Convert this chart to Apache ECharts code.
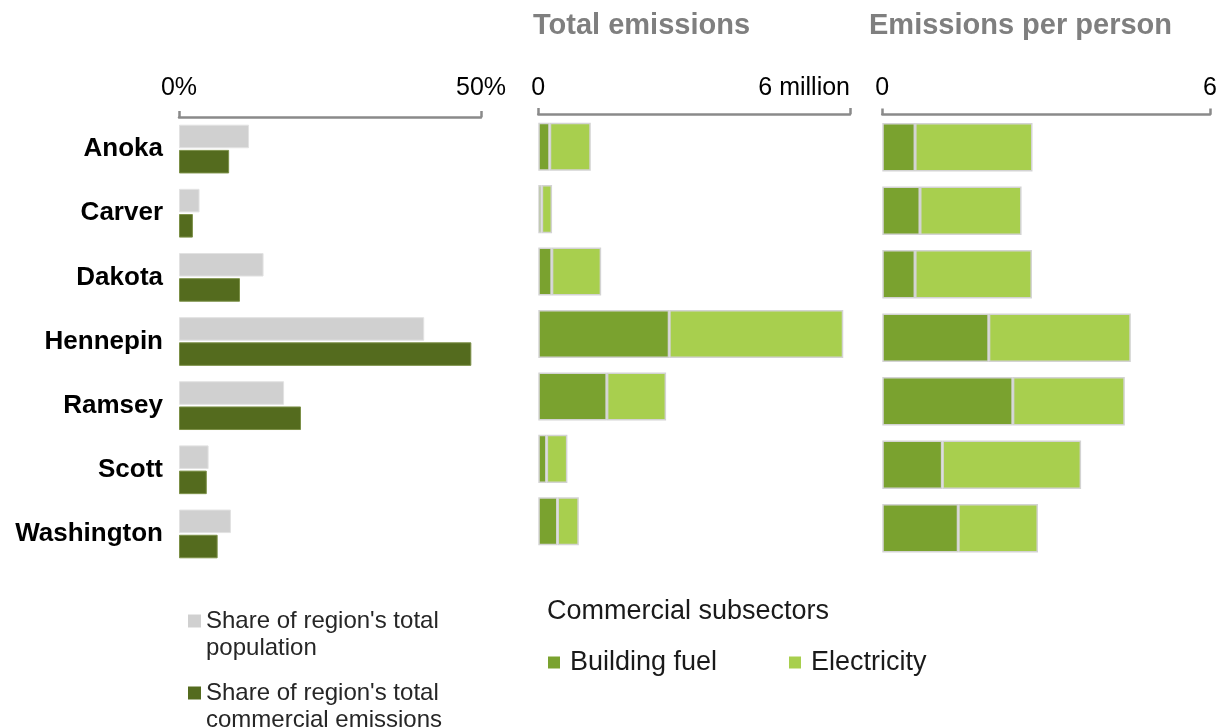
<!DOCTYPE html>
<html><head><meta charset="utf-8">
<script src="https://cdn.jsdelivr.net/npm/echarts@6/dist/echarts.min.js"></script>
<style>html,body{margin:0;padding:0;background:#fff}#c{width:1223px;height:728px}</style>
</head><body><div id="c"></div>
<script>
// ---- data ----
const categories = ['Anoka', 'Carver', 'Dakota', 'Hennepin', 'Ramsey', 'Scott', 'Washington'];
const popShare  = [11.6, 3.4, 14.0, 40.6, 17.4, 4.9, 8.6];     // % of region's population
const emisShare = [8.3, 2.3, 10.1, 48.4, 20.2, 4.6, 6.4];      // % of region's commercial emissions
const totalFuel = [0.22, 0.065, 0.26, 2.52, 1.32, 0.16, 0.37]; // million
const totalElec = [0.79, 0.20, 0.95, 3.35, 1.14, 0.40, 0.41];  // million
const perFuel   = [0.60, 0.69, 0.60, 1.95, 2.39, 1.10, 1.39];
const perElec   = [2.15, 1.86, 2.14, 2.60, 2.05, 2.54, 1.46];
const shareTicks = ['0%', '50%'];
const totalTicks = ['0', '6 million'];
const perTicks   = ['0', '6'];
const popName  = "Share of region's total population";
const emisName = "Share of region's total commercial emissions";

const FONT = "'Liberation Sans', Arial, Helvetica, sans-serif";
const axisGray = '#8a8a8a';

function topAxis(gridIndex, max, ticks, offset, margin, alignMax) {
  return {
    type: 'value', gridIndex, position: 'top', min: 0, max, interval: max, offset,
    splitLine: { show: false },
    axisLine: { show: true, lineStyle: { color: axisGray, width: 2.5 } },
    axisTick: { show: true, length: 6, lineStyle: { color: axisGray, width: 2.5 } },
    axisLabel: {
      show: true, margin, color: '#000', fontSize: 25, fontFamily: FONT,
      formatter: v => ticks[Math.round(v / max)],
      alignMaxLabel: alignMax || 'center', alignMinLabel: 'center'
    }
  };
}
function catAxis(gridIndex, showLabels) {
  return {
    type: 'category', gridIndex, data: categories, inverse: true,
    axisLine: { show: false }, axisTick: { show: false },
    axisLabel: { show: showLabels, margin: 16, padding: [8, 0, 0, 0], color: '#000', fontWeight: 'bold', fontSize: 26, fontFamily: FONT }
  };
}
function twoLineLegend(name, top) {
  return {
    data: [name], orient: 'vertical', left: 188, top, padding: 0,
    icon: 'rect', itemWidth: 13, itemHeight: 13, itemStyle: { borderWidth: 0 },
    formatter: n => '{s| }\n{a|' + n.replace('total ', 'total}\n{a|') + '}',
    textStyle: {
      color: '#262626', fontFamily: FONT,
      rich: {
        s: { fontSize: 24, lineHeight: 27 },
        a: { fontSize: 24, lineHeight: 27, color: '#262626', fontFamily: FONT }
      }
    }
  };
}

const chart = echarts.init(document.getElementById('c'), null, { renderer: 'canvas' });
chart.setOption({
  animation: false,
  backgroundColor: '#fff',
  textStyle: { fontFamily: FONT },
  title: [
    { text: 'Total emissions', left: 533, top: 11, padding: 0,
      textStyle: { color: '#7f7f7f', fontSize: 29, fontWeight: 'bold', fontFamily: FONT } },
    { text: 'Emissions per person', left: 869, top: 11, padding: 0,
      textStyle: { color: '#7f7f7f', fontSize: 29, fontWeight: 'bold', fontFamily: FONT } },
    { text: 'Commercial subsectors', left: 547, top: 598, padding: 0,
      textStyle: { color: '#1a1a1a', fontSize: 27, fontWeight: 'normal', fontFamily: FONT } }
  ],
  grid: [
    { left: 179, width: 302, top: 117, height: 449 },
    { left: 538.3, width: 311.7, top: 115.5, height: 437 },
    { left: 882.3, width: 327.7, top: 115.5, height: 444.5 }
  ],
  xAxis: [
    topAxis(0, 50, shareTicks, 0, 16),
    topAxis(1, 6, totalTicks, 1.5, 13, 'right'),
    topAxis(2, 6, perTicks, 1, 14)
  ],
  yAxis: [catAxis(0, true), catAxis(1, false), catAxis(2, false)],
  legend: [
    twoLineLegend(popName, 582),
    twoLineLegend(emisName, 654),
    { data: ['Building fuel'], left: 548, top: 649, padding: 0,
      icon: 'rect', itemWidth: 12, itemHeight: 12, itemStyle: { borderWidth: 0 },
      textStyle: { fontSize: 27, color: '#1a1a1a', padding: [0, 0, 0, 5], fontFamily: FONT } },
    { data: ['Electricity'], left: 789, top: 649, padding: 0,
      icon: 'rect', itemWidth: 12, itemHeight: 12, itemStyle: { borderWidth: 0 },
      textStyle: { fontSize: 27, color: '#1a1a1a', padding: [0, 0, 0, 5], fontFamily: FONT } }
  ],
  series: [
    { name: popName, type: 'bar', xAxisIndex: 0, yAxisIndex: 0, data: popShare,
      barGap: '7%', barCategoryGap: '24%',
      itemStyle: { color: '#d0d0d0', borderColor: '#e2e2e2', borderWidth: 1 } },
    { name: emisName, type: 'bar', xAxisIndex: 0, yAxisIndex: 0, data: emisShare,
      barGap: '7%', barCategoryGap: '24%',
      itemStyle: { color: '#546b1e', borderColor: '#7c9048', borderWidth: 1 } },
    { name: 'Building fuel', type: 'bar', stack: 'total', xAxisIndex: 1, yAxisIndex: 1, data: totalFuel,
      barCategoryGap: '23%',
      itemStyle: { color: '#7aa22f', borderColor: '#d3d3d3', borderWidth: 1.5 } },
    { name: 'Electricity', type: 'bar', stack: 'total', xAxisIndex: 1, yAxisIndex: 1, data: totalElec,
      barCategoryGap: '23%',
      itemStyle: { color: '#a8cf4e', borderColor: '#d3d3d3', borderWidth: 1.5 } },
    { name: 'Building fuel', type: 'bar', stack: 'per', xAxisIndex: 2, yAxisIndex: 2, data: perFuel,
      barCategoryGap: '23.6%',
      itemStyle: { color: '#7aa22f', borderColor: '#d3d3d3', borderWidth: 1.5 } },
    { name: 'Electricity', type: 'bar', stack: 'per', xAxisIndex: 2, yAxisIndex: 2, data: perElec,
      barCategoryGap: '23.6%',
      itemStyle: { color: '#a8cf4e', borderColor: '#d3d3d3', borderWidth: 1.5 } }
  ]
});
</script>
</body></html>
